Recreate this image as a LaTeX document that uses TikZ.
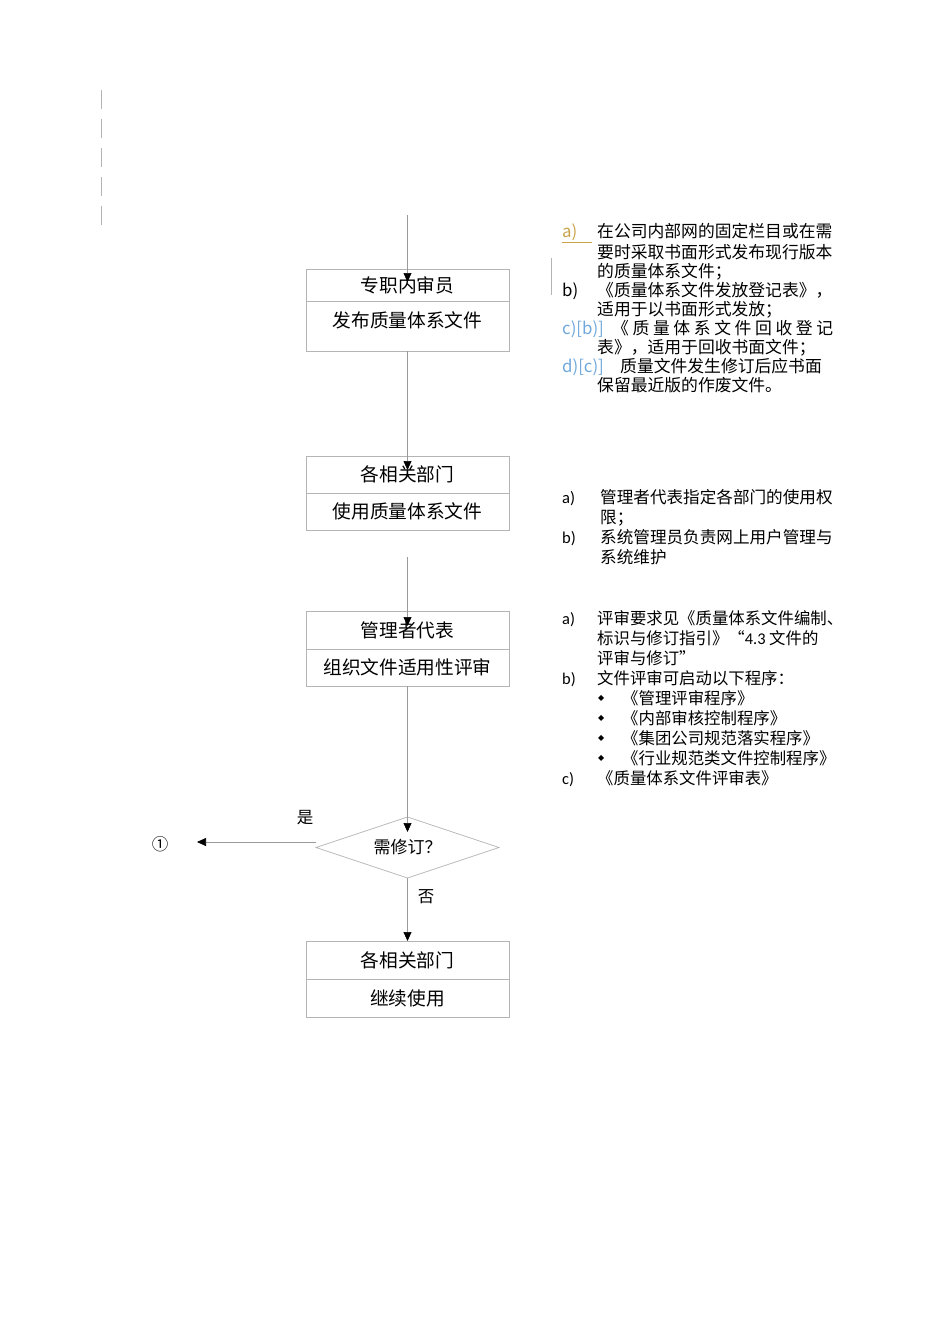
\documentclass[tikz,border=0pt]{standalone}
\usepackage{fontspec}
\setmainfont{Noto Sans CJK SC}
\newfontfamily\lat{Carlito}
\newfontfamily\sym{DejaVu Sans}
\usetikzlibrary{arrows.meta,positioning,calc,shapes.geometric}
\definecolor{boxgray}{HTML}{B4B4B4}
\definecolor{linegray}{HTML}{9A9A9A}
\definecolor{gold}{HTML}{C9A44C}
\definecolor{rev}{HTML}{6FA8DC}
\newcommand{\dia}{\raisebox{3.5pt}{\fontsize{8}{8}\sym ◆}}
\tikzset{
	head/.style={draw=boxgray, line width=0.7pt, minimum width=203pt, inner sep=0pt, outer sep=0pt, font=\fontsize{18.7}{22}\selectfont},
	body/.style={head},
	decision/.style={diamond, draw=boxgray, line width=0.7pt, shape aspect=3, minimum width=183pt, minimum height=61pt, inner sep=0pt, outer sep=0pt, font=\fontsize{17}{19}\selectfont},
	flow/.style={draw=linegray, line width=0.7pt, -{Triangle[length=9pt,width=8pt,color=black]}},
	note/.style={align=left, inner sep=0pt, anchor=north west, font=\fontsize{16.6}{20}\selectfont},
	lbl/.style={inner sep=0pt, font=\fontsize{16.5}{19}\selectfont}
}
\begin{document}
\begin{tikzpicture}[x=1pt, y=-1pt]
	\useasboundingbox (0,0) rectangle (950,1344);
	\draw[boxgray, line width=0.7pt, dash pattern=on 19pt off 10pt] (101,90) -- (101,225);
	\draw[boxgray, line width=0.5pt] (551,258) -- (551,295);

	\coordinate (start) at (407.5,215);
	\node[head, minimum height=32pt] (b1t) at (407.5,285) {专职内审员};
	\node[body, minimum height=50pt, text depth=12pt, below=0pt of b1t] (b1b) {发布质量体系文件};
	\node[head, minimum height=37pt] (b2t) at (407.5,474.5) {各相关部门};
	\node[body, minimum height=37pt, below=0pt of b2t] (b2b) {使用质量体系文件};
	\node[head, minimum height=38pt] (b3t) at (407.5,630) {管理者代表};
	\node[body, minimum height=37pt, below=0pt of b3t] (b3b) {组织文件适用性评审};
	\node[decision] (rev) at (407.5,847.5) {需修订？};
	\node[head, minimum height=38pt] (b4t) at (407.5,960) {各相关部门};
	\node[body, minimum height=38pt, below=0pt of b4t] (b4b) {继续使用};
	\node[lbl] (c1) at (160,844) {①};
	\coordinate (yes) at (197,842);
	\node[lbl] (lyes) at (305,818) {是};
	\node[lbl] (lno) at (426,897) {否};

	\draw[flow, shorten >=-13pt] (start) -- (b1t.north);
	\draw[flow, shorten >=-14pt] (b1b.south) -- (b2t.north);
	\draw[flow, shorten <=27pt, shorten >=-15pt] (b2b.south) -- (b3t.north);
	\draw[flow, shorten >=-15pt] (b3b.south) -- (rev.north);
	\draw[flow] (rev.south) -- (b4t.north);
	\draw[flow] ([yshift=5.5pt]rev.west) -- (yes);

	\node[note, font=\fontsize{16.8}{19}\selectfont] (n1) at (562,223.5) {%
		{\color{gold}\underline{\makebox[30pt][l]{a)}}}\hspace{5pt}在公司内部网的固定栏目或在需\\
		\hspace*{35pt}要时采取书面形式发布现行版本\\
		\hspace*{35pt}的质量体系文件；\\
		\makebox[35pt][l]{b)}《质量体系文件发放登记表》，\\
		\hspace*{35pt}适用于以书面形式发放；\\
		\makebox[50pt][l]{\color{rev}c)[b)]}\makebox[221pt][s]{《\hfill 质\hfill 量\hfill 体\hfill 系\hfill 文\hfill 件\hfill 回\hfill 收\hfill 登\hfill 记}\\
		\hspace*{35pt}表》，适用于回收书面文件；\\
		\makebox[58pt][l]{\color{rev}d)[c)]}质量文件发生修订后应书面\\
		\hspace*{35pt}保留最近版的作废文件。};
	\node[note] (n2) at (562,489) {%
		\makebox[38pt][l]{\lat a)}管理者代表指定各部门的使用权\\
		\hspace*{38pt}限；\\
		\makebox[38pt][l]{\lat b)}系统管理员负责网上用户管理与\\
		\hspace*{38pt}系统维护};
	\node[note, font=\fontsize{16.4}{20}\selectfont] (n3) at (562,610) {%
		\makebox[35pt][l]{\lat a)}评审要求见《质量体系文件编制、\\
		\hspace*{35pt}标识与修订指引》“{\lat 4.3} 文件的\\
		\hspace*{35pt}评审与修订”\\
		\makebox[35pt][l]{\lat b)}文件评审可启动以下程序：\\
		\hspace*{36pt}\makebox[24pt][l]{\dia}《管理评审程序》\\
		\hspace*{36pt}\makebox[24pt][l]{\dia}《内部审核控制程序》\\
		\hspace*{36pt}\makebox[24pt][l]{\dia}《集团公司规范落实程序》\\
		\hspace*{36pt}\makebox[24pt][l]{\dia}《行业规范类文件控制程序》\\
		\makebox[35pt][l]{\lat c)}《质量体系文件评审表》};
\end{tikzpicture}
\end{document}
